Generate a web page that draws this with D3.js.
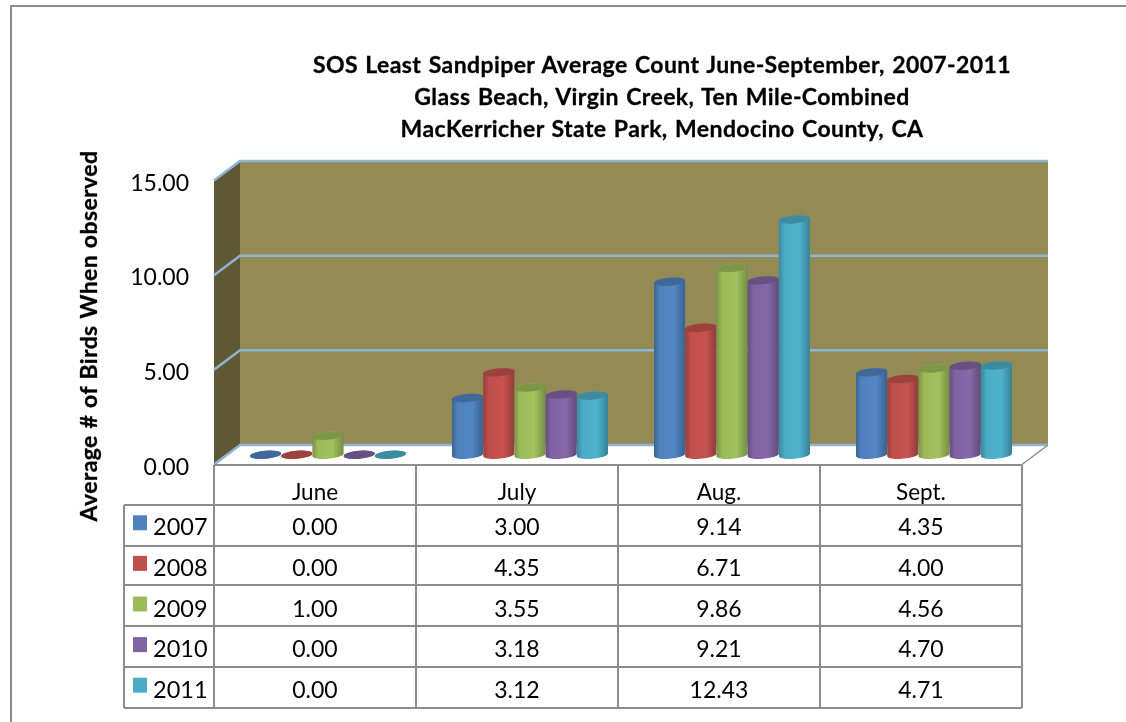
<!DOCTYPE html>
<html>
<head>
<meta charset="utf-8">
<script src="https://cdn.jsdelivr.net/npm/d3@7"></script>
<style>
  body { margin: 0; background: #fff; }
  svg { filter: blur(0.4px); }
  text { font-family: Lato, "Open Sans", sans-serif; fill: #000; }
</style>
</head>
<body>
<svg id="chart" width="1126" height="722"></svg>
<script>
const months = ['June', 'July', 'Aug.', 'Sept.'];
const years = ['2007', '2008', '2009', '2010', '2011'];
const v2007 = [0.00, 3.00, 9.14, 4.35];
const v2008 = [0.00, 4.35, 6.71, 4.00];
const v2009 = [1.00, 3.55, 9.86, 4.56];
const v2010 = [0.00, 3.18, 9.21, 4.70];
const v2011 = [0.00, 3.12, 12.43, 4.71];
const yTicks = [0, 5, 10, 15];
const titleLines = [
    'SOS Least Sandpiper Average Count June-September, 2007-2011',
    'Glass Beach, Virgin Creek, Ten Mile-Combined',
    'MacKerricher State Park, Mendocino County, CA'
];
const yLabel = 'Average # of Birds When observed';
const seriesValues = [v2007, v2008, v2009, v2010, v2011];
const seriesColors = ['#4f81bd', '#c0504d', '#9bbb59', '#8064a2', '#4bacc6'];

const svg = d3.select('#chart');

// FRAME
svg.append('path')
    .attr('d', 'M11,722V6H1126')
    .attr('fill', 'none')
    .attr('stroke', '#8c8c8c')
    .attr('stroke-width', 2);

// SCALES
const x = d3.scaleBand().domain(months).range([214, 1022]);
const y = d3.scaleLinear().domain([0, 15]).range([464.5, 180.5]);
const inner = d3.scaleBand().domain(years).range([0, 156]);
const depth = { dx: 26, dy: -19.5 };
const fmt = d3.format('.2f');

// WALLS
const x0 = x.range()[0], x1 = x.range()[1];
const wall = svg.append('g');
wall.append('rect')
    .attr('x', x0 + depth.dx).attr('y', y(15) + depth.dy)
    .attr('width', x1 - x0).attr('height', y(0) - y(15))
    .attr('fill', '#948a54');
wall.append('path')
    .attr('d', `M${x0},${y(0)}V${y(15)}l${depth.dx},${depth.dy}V${y(0) + depth.dy}Z`)
    .attr('fill', '#5f5835');
wall.append('path')
    .attr('d', `M${x0},${y(0)}l${depth.dx},${depth.dy}H${x1 + depth.dx}l${-depth.dx},${-depth.dy}Z`)
    .attr('fill', '#fff');

// GRIDLINES
wall.selectAll('path.grid')
    .data(yTicks)
    .enter()
    .append('path')
    .attr('class', 'grid')
    .attr('d', d => `M${x0},${y(d)}l${depth.dx},${depth.dy}H${x1 + depth.dx}`)
    .attr('fill', 'none')
    .attr('stroke', '#8fb3d3')
    .attr('stroke-width', 2.5);
wall.append('path')
    .attr('d', `M${x1 + depth.dx},${y(0) + depth.dy}l${-depth.dx},${-depth.dy}`)
    .attr('stroke', '#8c8c8c')
    .attr('stroke-width', 1.5);

// Y TICK LABELS
svg.selectAll('text.tick')
    .data(yTicks)
    .enter()
    .append('text')
    .attr('class', 'tick')
    .attr('x', 189)
    .attr('y', d => y(d) + 10)
    .attr('text-anchor', 'end')
    .attr('font-size', 23)
    .text(fmt);

// TITLE
svg.selectAll('text.title')
    .data(titleLines)
    .enter()
    .append('text')
    .attr('class', 'title')
    .attr('x', 662)
    .attr('y', (d, i) => 73 + i * 32)
    .attr('text-anchor', 'middle')
    .attr('font-size', 23)
    .attr('font-weight', 700)
    .attr('letter-spacing', 0.4)
    .attr('word-spacing', 1.4)
    .attr('stroke', '#000')
    .attr('stroke-width', 0.3)
    .text(d => d);

// Y LABEL
svg.append('text')
    .attr('transform', 'translate(97,336) rotate(-90)')
    .attr('text-anchor', 'middle')
    .attr('font-size', 23)
    .attr('font-weight', 700)
    .attr('letter-spacing', 0.4)
    .attr('word-spacing', 0.8)
    .attr('stroke', '#000')
    .attr('stroke-width', 0.3)
    .text(yLabel);

// CYLINDERS
const defs = svg.append('defs');
seriesColors.forEach((c, i) => {
    const grad = defs.append('linearGradient').attr('id', 'cyl' + i);
    grad.append('stop').attr('offset', '0%').attr('stop-color', d3.color(c).darker(0.7));
    grad.append('stop').attr('offset', '18%').attr('stop-color', c);
    grad.append('stop').attr('offset', '65%').attr('stop-color', d3.color(c).brighter(0.1));
    grad.append('stop').attr('offset', '100%').attr('stop-color', d3.color(c).darker(0.8));
});

const bars = [];
months.forEach((m, mi) => {
    years.forEach((yr, si) => bars.push({ month: m, year: yr, si: si, value: seriesValues[si][mi] }));
});

const rx = inner.bandwidth() / 2;
const ry = 4;
const tilt = 0.08;
const barX = d => x(d.month) + x.bandwidth() / 2 - 78 + depth.dx / 2 + inner(d.year) + rx;
const baseY = y(0) + depth.dy / 2;

const barG = svg.selectAll('g.bar')
    .data(bars)
    .enter()
    .append('g')
    .attr('class', 'bar');

barG.append('path')
    .attr('d', d => {
        const cx = barX(d), top = baseY - (y(0) - y(d.value));
        return `M${cx - rx},${top + rx * tilt}V${baseY + rx * tilt}` +
            `A${rx},${ry} -5 0 0 ${cx + rx},${baseY - rx * tilt}V${top - rx * tilt}` +
            `A${rx},${ry} -5 0 0 ${cx - rx},${top + rx * tilt}Z`;
    })
    .attr('fill', d => `url(#cyl${d.si})`);

barG.append('ellipse')
    .attr('cx', barX)
    .attr('cy', d => baseY - (y(0) - y(d.value)))
    .attr('rx', rx)
    .attr('ry', ry)
    .attr('transform', d => `rotate(-5 ${barX(d)} ${baseY - (y(0) - y(d.value))})`)
    .attr('fill', d => d3.color(seriesColors[d.si]).darker(0.6));

// DATA TABLE
const rowY = [505, 546, 585, 626, 667, 708];
const rows = d3.scaleBand().domain(years).range([505, 708]);
const table = svg.append('g')
    .attr('stroke', '#8c8c8c')
    .attr('stroke-width', 2)
    .attr('fill', 'none');
table.append('line')
    .attr('x1', x0).attr('x2', x1)
    .attr('y1', 465).attr('y2', 465);
table.selectAll('line.h')
    .data(rowY)
    .enter()
    .append('line')
    .attr('class', 'h')
    .attr('x1', 124).attr('x2', x1)
    .attr('y1', d => d).attr('y2', d => d);
table.selectAll('line.v')
    .data(d3.range(5).map(i => x0 + i * x.step()))
    .enter()
    .append('line')
    .attr('class', 'v')
    .attr('x1', d => d).attr('x2', d => d)
    .attr('y1', 465).attr('y2', 708);
table.append('line').attr('x1', 124).attr('x2', 124).attr('y1', 505).attr('y2', 708);

svg.selectAll('text.month')
    .data(months)
    .enter()
    .append('text')
    .attr('class', 'month')
    .attr('x', d => x(d) + x.bandwidth() / 2)
    .attr('y', 500)
    .attr('text-anchor', 'middle')
    .attr('font-size', 22.5)
    .text(d => d);

years.forEach((yr, si) => {
    const cy = rows(yr) + rows.bandwidth() / 2;
    svg.append('rect')
        .attr('x', 133).attr('y', cy - 10)
        .attr('width', 14).attr('height', 15)
        .attr('fill', seriesColors[si]);
    svg.append('text')
        .attr('x', 153).attr('y', cy + 10)
        .attr('font-size', 23.5)
        .text(yr);
    svg.selectAll('text.cell' + si)
        .data(seriesValues[si])
        .enter()
        .append('text')
        .attr('class', 'cell' + si)
        .attr('x', (d, i) => x(months[i]) + x.bandwidth() / 2)
        .attr('y', cy + 10)
        .attr('text-anchor', 'middle')
        .attr('font-size', 23)
        .text(fmt);
});
</script>
</body>
</html>
